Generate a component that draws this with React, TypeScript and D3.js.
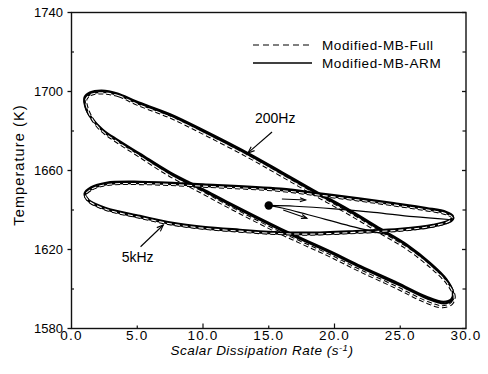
import React from "react";
import * as d3 from "d3";

type P = [number, number];

// 200 Hz forcing, Modified-MB-ARM (solid)
const hz200Arm: P[] = [
  [2.3, 1700.5], [3.5, 1699], [4.9, 1695], [7.5, 1688.5], [10.3, 1679.5], [13.5, 1668.5],
  [15.9, 1659.5], [18.4, 1650], [21, 1640.5], [23.5, 1630.5], [25.5, 1622.5], [27.3, 1613],
  [28.5, 1605], [29.0, 1598.5], [28.9, 1595], [28.3, 1593.5], [27, 1596], [24.8, 1603],
  [22, 1611.5], [19.7, 1619], [15.9, 1630.5], [12, 1643.5], [10, 1650.5], [7.5, 1659],
  [5.2, 1668.5], [3.5, 1675.5], [2.4, 1680.5], [1.6, 1686], [1.1, 1691.5], [0.99, 1697], [1.4, 1699.5],
];
// 200 Hz forcing, Modified-MB-Full (dashed)
const hz200Full: P[] = [
  [2.4, 1699.3], [3.6, 1697.8], [5.0, 1693.6], [7.6, 1686.8], [10.4, 1677.6], [13.6, 1666.5],
  [16.0, 1657.4], [18.5, 1647.8], [21.1, 1638.2], [23.6, 1628.2], [25.6, 1620.2], [27.4, 1610.8],
  [28.6, 1602.8], [29.1, 1596.2], [28.9, 1592.6], [28.2, 1591], [26.9, 1593.6], [24.7, 1600.8],
  [21.9, 1609.4], [19.6, 1617], [15.8, 1628.6], [11.9, 1641.8], [9.9, 1649], [7.4, 1657.8],
  [5.1, 1667.6], [3.4, 1674.9], [2.3, 1680.2], [1.6, 1685.8], [1.2, 1691.2], [1.1, 1696.2], [1.5, 1698.6],
];
// 5 kHz forcing, Modified-MB-ARM (solid)
const khz5Arm: P[] = [
  [0.99, 1648.2], [1.5, 1651.5], [2.65, 1653.8], [5.2, 1654.3], [10, 1653], [15.9, 1650.8],
  [19, 1648.3], [22, 1645.8], [24.5, 1643.5], [27, 1641], [28.5, 1639], [29.0, 1637],
  [28.8, 1635], [27.5, 1632.5], [25, 1630.5], [22, 1629.5], [18, 1628.5], [15, 1629],
  [12.8, 1630], [10, 1631.5], [7.7, 1633.5], [5.2, 1637], [2.6, 1641], [1.3, 1645],
];
// 5 kHz forcing, Modified-MB-Full (dashed)
const khz5Full: P[] = [
  [1.05, 1647.6], [1.55, 1650.7], [2.7, 1652.9], [5.2, 1653.4], [10, 1652.1], [15.9, 1649.9],
  [19, 1647.4], [22, 1644.9], [24.5, 1642.6], [27, 1640.1], [28.5, 1638.1], [28.95, 1636.3],
  [28.7, 1634.3], [27.4, 1631.8], [25, 1629.8], [22, 1628.8], [18, 1627.8], [15, 1628.3],
  [12.8, 1629.3], [10, 1630.8], [7.7, 1632.8], [5.2, 1636.3], [2.65, 1640.3], [1.35, 1644.4],
];
// transients from the initial state
const initialState: P = [15.0, 1642.3];
const transient5k: P[] = [[15.0, 1642.3], [17, 1641.9], [20, 1640.6], [23, 1638.8], [26, 1636.6], [28.7, 1635.2]];
const transient200: P[] = [[15.0, 1642.3], [16.1, 1640.9], [18, 1637.6], [21.9, 1630.7], [24, 1627.6]];
// direction arrows
const dirArrows: [P, P][] = [
  [[16.0, 1645.6], [17.8, 1645.1]],
  [[16.1, 1640.0], [17.9, 1635.8]],
];

const xTicks = [0, 5, 10, 15, 20, 25, 30];
const xTickLabels = ["0.0", "5.0", "10.0", "15.0", "20.0", "25.0", "30.0"];
const yTicks = [1580, 1620, 1660, 1700, 1740];
const yMinor = [1600, 1640, 1680, 1720];
const legendLabels = ["Modified-MB-Full", "Modified-MB-ARM"];

// annotation labels: text anchor point and arrow (from -> to) in data units
const label200 = { text: "200Hz", at: [13.95, 1684.1] as P, from: [15.25, 1679.5] as P, to: [13.42, 1668.9] as P };
const label5k = { text: "5kHz", at: [3.82, 1613.8] as P, from: [5.25, 1621.4] as P, to: [6.98, 1632.4] as P };

const FONT = "'Liberation Sans', Arial, Helvetica, sans-serif";

export default function App() {
  const W = 488, H = 374;
  const x = d3.scaleLinear().domain([0, 30]).range([71.5, 466]);
  const y = d3.scaleLinear().domain([1580, 1740]).range([328.5, 12.5]);
  const closed = d3.line<P>().x(d => x(d[0])).y(d => y(d[1])).curve(d3.curveCatmullRomClosed.alpha(0.5));
  const open = d3.line<P>().x(d => x(d[0])).y(d => y(d[1])).curve(d3.curveCatmullRom.alpha(0.5));

  const arrowHead = (from: [number, number], to: [number, number], len = 6, ang = 0.38) => {
    const a = Math.atan2(to[1] - from[1], to[0] - from[0]);
    const p1 = [to[0] - len * Math.cos(a - ang), to[1] - len * Math.sin(a - ang)];
    const p2 = [to[0] - len * Math.cos(a + ang), to[1] - len * Math.sin(a + ang)];
    return `M${p1[0]},${p1[1]}L${to[0]},${to[1]}L${p2[0]},${p2[1]}`;
  };

  const solidLoop = (pts: P[], key: string) => (
    <g key={key}>
      <path d={closed(pts)!} fill="none" stroke="#000" strokeWidth={2.2} />
      <path d={closed(pts)!} fill="none" stroke="#000" strokeWidth={2.0} transform="translate(0.6,1.6)" />
    </g>
  );
  const dashedLoop = (pts: P[], key: string) => (
    <g key={key}>
      <path d={closed(pts)!} fill="none" stroke="#000" strokeWidth={3.2} strokeDasharray="5 3" />
      <path d={closed(pts)!} fill="none" stroke="#fff" strokeWidth={1.1} strokeDasharray="5 3" />
    </g>
  );

  const p200a: [number, number] = [x(label200.from[0]), y(label200.from[1])];
  const p200b: [number, number] = [x(label200.to[0]), y(label200.to[1])];
  const p5a: [number, number] = [x(label5k.from[0]), y(label5k.from[1])];
  const p5b: [number, number] = [x(label5k.to[0]), y(label5k.to[1])];

  return (
    <svg width={W} height={H} style={{ position: "absolute", left: 0, top: 0, background: "#fff" }} fontFamily={FONT}>
      <rect x={0} y={0} width={W} height={H} fill="#fff" />
      {/* loops */}
      {solidLoop(hz200Arm, "a200")}
      {dashedLoop(hz200Full, "f200")}
      {solidLoop(khz5Arm, "a5k")}
      {dashedLoop(khz5Full, "f5k")}
      {/* transients */}
      <path d={open(transient5k)!} fill="none" stroke="#000" strokeWidth={1.2} />
      <path d={open(transient200)!} fill="none" stroke="#000" strokeWidth={1.2} />
      <circle cx={x(initialState[0])} cy={y(initialState[1])} r={4.2} fill="#000" />
      {dirArrows.map(([a, b], i) => {
        const pa: [number, number] = [x(a[0]), y(a[1])];
        const pb: [number, number] = [x(b[0]), y(b[1])];
        return (
          <g key={i} fill="none" stroke="#000" strokeWidth={1.1}>
            <line x1={pa[0]} y1={pa[1]} x2={pb[0]} y2={pb[1]} />
            <path d={arrowHead(pa, pb, 6, 0.35)} />
          </g>
        );
      })}
      {/* annotations */}
      <text x={x(label200.at[0])} y={y(label200.at[1])} fontSize={14}>{label200.text}</text>
      <g fill="none" stroke="#000" strokeWidth={1.1}>
        <line x1={p200a[0]} y1={p200a[1]} x2={p200b[0]} y2={p200b[1]} />
        <path d={arrowHead(p200a, p200b, 7, 0.38)} />
      </g>
      <text x={x(label5k.at[0])} y={y(label5k.at[1])} fontSize={14}>{label5k.text}</text>
      <g fill="none" stroke="#000" strokeWidth={1.1}>
        <line x1={p5a[0]} y1={p5a[1]} x2={p5b[0]} y2={p5b[1]} />
        <path d={arrowHead(p5a, p5b, 7, 0.38)} />
      </g>
      {/* frame */}
      <rect x={71.5} y={12.5} width={466 - 71.5} height={328.5 - 12.5} fill="none" stroke="#111" strokeWidth={1.4} />
      {/* y ticks */}
      {yTicks.map(t => (
        <g key={t}>
          <line x1={67.5} x2={71.5} y1={y(t)} y2={y(t)} stroke="#111" strokeWidth={1.3} />
          <line x1={462} x2={466} y1={y(t)} y2={y(t)} stroke="#111" strokeWidth={1.3} />
          <text x={63} y={y(t) + 4.5} fontSize={13} textAnchor="end">{t}</text>
        </g>
      ))}
      {yMinor.map(t => (
        <g key={t}>
          <line x1={71.5} x2={74} y1={y(t)} y2={y(t)} stroke="#111" strokeWidth={1.2} />
          <line x1={462.5} x2={466} y1={y(t)} y2={y(t)} stroke="#111" strokeWidth={1.2} />
        </g>
      ))}
      {/* x ticks */}
      {xTicks.map((t, i) => (
        <g key={t}>
          {i > 0 && i < xTicks.length - 1 && (
            <line x1={x(t)} x2={x(t)} y1={328.5} y2={t % 10 === 0 ? 323.5 : 325.5} stroke="#111" strokeWidth={1.2} />
          )}
          <text x={x(t)} y={339.5} fontSize={13.5} letterSpacing={1.2} textAnchor="middle">{xTickLabels[i]}</text>
        </g>
      ))}
      {/* axis titles */}
      <text x={262} y={355} fontSize={13.5} letterSpacing={0.5} fontStyle="italic" textAnchor="middle">
        Scalar Dissipation Rate (s<tspan fontSize={9.5} dy={-4}>-1</tspan><tspan dy={4}>)</tspan>
      </text>
      <text transform="translate(24,165) rotate(-90)" fontSize={14.5} letterSpacing={1.1} textAnchor="middle">Temperature (K)</text>
      {/* legend */}
      <line x1={253} x2={312} y1={45} y2={45} stroke="#000" strokeWidth={1.2} strokeDasharray="6 4" />
      <text x={322} y={50} fontSize={13.5} letterSpacing={0.6}>{legendLabels[0]}</text>
      <line x1={253} x2={312} y1={63} y2={63} stroke="#000" strokeWidth={1.6} />
      <text x={322} y={68} fontSize={13.5} letterSpacing={0.6}>{legendLabels[1]}</text>
    </svg>
  );
}
